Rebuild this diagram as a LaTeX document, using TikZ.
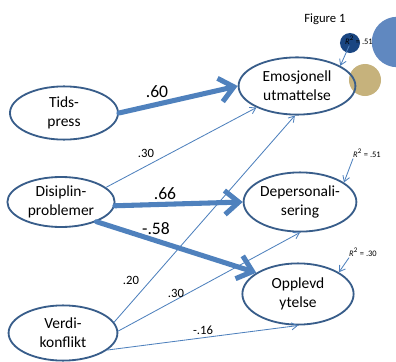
\documentclass[tikz,border=0pt]{standalone}
\usepackage{fontspec}
\setmainfont{Carlito}
\usetikzlibrary{shapes.geometric,arrows.meta}
\definecolor{pathblue}{HTML}{4F81BD}
\definecolor{rimblue}{HTML}{385D8A}
\definecolor{dotdark}{HTML}{1A4682}
\definecolor{dotlight}{HTML}{6088C0}
\definecolor{dottan}{HTML}{C6B27C}
\begin{document}
\begin{tikzpicture}[x=0.025cm, y=-0.025cm, font=\fontsize{11}{13.5}\selectfont, line join=round, line cap=round,
		latent/.style={ellipse, draw=rimblue, line width=1.3pt, align=center, inner sep=0pt},
		heavy/.style={pathblue, line width=3.6pt, -{Straight Barb[length=10pt,width=17pt]}},
		light/.style={pathblue, line width=0.6pt, -{Straight Barb[length=4pt,width=5pt]}},
		coef/.style={font=\fontsize{9}{10}\selectfont, inner sep=1pt},
		bigcoef/.style={font=\fontsize{12.5}{13}\selectfont, inner sep=1pt},
		rsq/.style={font=\fontsize{6}{7}\selectfont, inner sep=1pt}]
			\useasboundingbox (0,0) rectangle (396,362);
			% decoration dots top right
			\fill[dotlight] (397,42) circle (0.63cm);
			\fill[dottan] (365,80) circle (0.4cm);
			\fill[dotdark] (350,43) circle (0.25cm);
			\node[font=\fontsize{9}{10}\selectfont] (fig) at (325,19) {Figure 1};
			% latent variables
			\node[latent, minimum width=2.7cm, minimum height=1.33cm] (tids) at (64,113) {Tids-\\press};
			\node[latent, minimum width=2.68cm, minimum height=1.25cm] (dis) at (61,202) {Disiplin-\\problemer};
			\node[latent, minimum width=2.72cm, minimum height=1.38cm] (ver) at (63,333) {Verdi-\\konflikt};
			\node[latent, minimum width=2.92cm, minimum height=1.43cm] (emo) at (297,86) {Emosjonell\\utmattelse};
			\node[latent, minimum width=2.72cm, minimum height=1.48cm] (dep) at (300,202) {Depersonali-\\sering};
			\node[latent, minimum width=2.78cm, minimum height=1.53cm] (opp) at (298,294) {Opplevd\\ytelse};
			% strong paths
			\draw[heavy] (tids.east) -- (emo.west);
			\draw[heavy] (dis.-4) -- (dep.west);
			\draw[heavy] (dis.-29) -- (opp.153);
			% weak paths
			\draw[light] (dis.18) -- (emo.208);
			\draw[light] (ver.12) -- (emo.266);
			\draw[light] (ver.2) -- (dep.south);
			\draw[light] (ver.-21) -- (opp.south);
			% coefficients
			\node[bigcoef] (c1) at (157,92) {.60};
			\node[bigcoef] (c2) at (165,194) {.66};
			\node[bigcoef] (c3) at (156,229) {-.58};
			\node[coef] (c4) at (146,153) {.30};
			\node[coef] (c5) at (131,280) {.20};
			\node[coef] (c6) at (176,293) {.30};
			\node[coef] (c7) at (203,330) {-.16};
			% explained variance
			\node[rsq] (r2emo) at (359,40) {\textit{R}\textsuperscript{2} = .51};
			\node[rsq] (r2dep) at (367,153) {\textit{R}\textsuperscript{2} = .51};
			\node[rsq] (r2opp) at (363,252) {\textit{R}\textsuperscript{2} = .30};
			\draw[light] ([xshift=4pt]r2emo.south west) -- (emo.25);
			\draw[light] ([xshift=1pt]r2dep.south west) -- (dep.24);
			\draw[light] ([xshift=1pt]r2opp.south west) -- (opp.28);
		\end{tikzpicture}
\end{document}
